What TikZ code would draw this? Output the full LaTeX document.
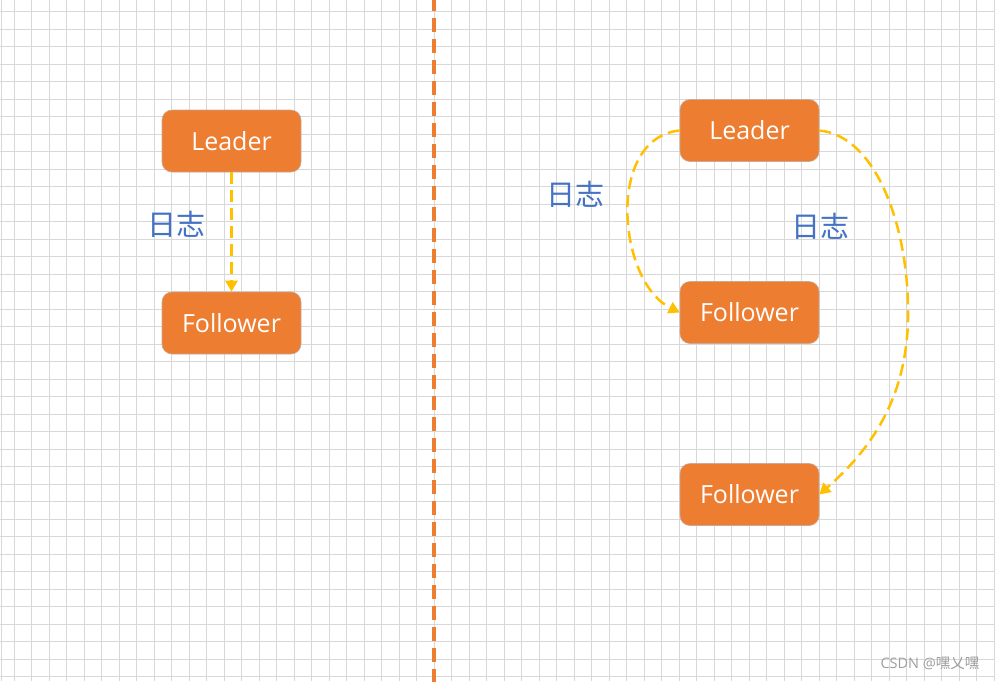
\documentclass[tikz,border=0pt]{standalone}
\usepackage{fontspec}
\setmainfont{Open Sans}
\newfontfamily\cjk{Noto Sans CJK SC}
\usetikzlibrary{arrows.meta}
\definecolor{boxorange}{RGB}{237,125,49}
\definecolor{arrowyellow}{RGB}{255,192,0}
\definecolor{labelblue}{RGB}{68,114,196}
\definecolor{gridgray}{RGB}{216,216,216}
\definecolor{boxedge}{RGB}{200,170,150}
\tikzset{
  rolebox/.style={draw=boxedge, line width=0.6pt, fill=boxorange, rounded corners=10pt,
    minimum width=139pt, minimum height=62pt, inner sep=0pt,
    text=white, font=\fontsize{25}{27}\selectfont},
  logarrow/.style={arrowyellow, line width=2.5pt, dash pattern=on 12pt off 6pt,
    -{Triangle[length=11pt,width=12pt]}},
  loglabel/.style={text=labelblue, font=\cjk\fontsize{29}{32}\selectfont, inner sep=0pt},
  divider/.style={boxorange, line width=3.2pt, dash pattern=on 14pt off 7pt},
}
\begin{document}
\begin{tikzpicture}[x=1pt,y=-1pt]
\useasboundingbox (0,0) rectangle (995,681);
\fill[white] (0,0) rectangle (995,681);
% grid
\foreach \i in {0,...,56} {
  \draw[gridgray, line width=0.9pt] ({14.3+17.5*\i},0) -- ({14.3+17.5*\i},681);
}
\draw[gridgray, line width=0.9pt] (1.7,0) -- (1.7,681);
\foreach \j in {0,...,38} {
  \draw[gridgray, line width=0.9pt] (0,{11.7+17.5*\j}) -- (995,{11.7+17.5*\j});
}
% divider
\coordinate (dtop) at (434,-3);
\coordinate (dbot) at (434,684);
\draw[divider] (dtop) -- (dbot);
% left side
\node[rolebox] (L1) at (231.5,141) {Leader};
\node[rolebox] (F1) at (231.5,323) {Follower};
\draw[logarrow] (L1.south) -- (F1.north);
\node[loglabel] (lab1) at (176,224) {日志};
% right side
\node[rolebox] (L2) at (749.5,130.5) {Leader};
\node[rolebox] (F2) at (749.5,312.5) {Follower};
\node[rolebox] (F3) at (749.5,494.5) {Follower};
\draw[logarrow] (L2.west) .. controls (605,138) and (618,282) .. (F2.west);
\draw[logarrow] (L2.east) .. controls (878,136) and (910,232) .. (908,320)
   .. controls (906,400) and (870,450) .. (F3.east);
\node[loglabel] (lab2) at (575.5,194) {日志};
\node[loglabel] (lab3) at (820.5,226) {日志};
% watermark
\node[text=gray!75, font=\fontsize{14.5}{16}\selectfont, inner sep=0pt] (wm) at (930,663) {CSDN @{\cjk 嘿乂嘿}};
\end{tikzpicture}
\end{document}
